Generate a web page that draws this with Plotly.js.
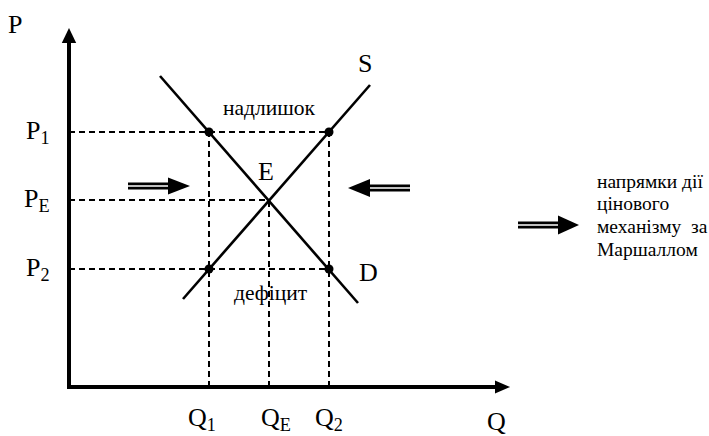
<!DOCTYPE html>
<html>
<head>
<meta charset="utf-8">
<script src="https://cdn.plot.ly/plotly-3.0.1.min.js"></script>
<style>html,body{margin:0;padding:0;background:#fff;}#chart{width:709px;height:436px;}</style>
</head>
<body>
<div id="chart"></div>
<script>
// ---- data (abstract quantity / price units) ----
const qLevels = [7, 10, 13];            // Q1, QE, Q2
const qLabels = ['Q<sub>1</sub>', 'Q<sub>E</sub>', 'Q<sub>2</sub>'];
const qLabelShift = [-7, 7, 0];
const pLevels = [12.75, 9.35, 5.9];     // P1, PE, P2
const pLabels = ['P<sub>1</sub>', 'P<sub>E</sub>', 'P<sub>2</sub>'];
const supplyQ = [5.7, 15.05];
const supplyP = [4.4, 15.1];
const demandQ = [4.55, 14.45];
const demandP = [15.55, 4.2];
const axisMaxQ = 22.05;
const axisMaxP = 17.95;
const surplusText = 'надлишок';
const deficitText = 'дефіцит';
const legendLines = ['напрямки дії', 'цінового', 'механізму  за', 'Маршаллом'];
const legendLineY = [10.3, 9.2, 8.05, 6.9];

const FONT = '"Liberation Serif"';
const traces = [];

// dashed guide lines
const dashStyle = {color: '#000', width: 2, dash: '6px,4px'};
const guides = [
  {x: [0, qLevels[2]], y: [pLevels[0], pLevels[0]]},
  {x: [0, qLevels[1]], y: [pLevels[1], pLevels[1]]},
  {x: [0, qLevels[2]], y: [pLevels[2], pLevels[2]]},
  {x: [qLevels[0], qLevels[0]], y: [0, pLevels[0]]},
  {x: [qLevels[1], qLevels[1]], y: [0, pLevels[1]]},
  {x: [qLevels[2], qLevels[2]], y: [0, pLevels[0]]}
];
guides.forEach(g => traces.push({type: 'scatter', mode: 'lines', x: g.x, y: g.y, line: dashStyle, hoverinfo: 'skip'}));

// supply and demand
traces.push({type: 'scatter', mode: 'lines', x: supplyQ, y: supplyP, line: {color: '#000', width: 2.6}});
traces.push({type: 'scatter', mode: 'lines', x: demandQ, y: demandP, line: {color: '#000', width: 2.6}});

// intersection dots
traces.push({type: 'scatter', mode: 'markers',
  x: [qLevels[0], qLevels[2], qLevels[0], qLevels[2]],
  y: [pLevels[0], pLevels[0], pLevels[2], pLevels[2]],
  marker: {color: '#000', size: 9}});

// shapes: axes and arrows
const shapes = [];
function tri(tipX, tipY, baseX, baseY, halfW, vertical) {
  let p;
  if (vertical) p = `M ${tipX},${tipY} L ${baseX - halfW},${baseY} L ${baseX + halfW},${baseY} Z`;
  else p = `M ${tipX},${tipY} L ${baseX},${baseY - halfW} L ${baseX},${baseY + halfW} Z`;
  shapes.push({type: 'path', xref: 'x', yref: 'y', path: p, fillcolor: '#000', line: {width: 0}});
}
function line(x0, y0, x1, y1, w, c) {
  shapes.push({type: 'line', xref: 'x', yref: 'y', x0, y0, x1, y1, line: {color: c || '#000', width: w}});
}
// axes
line(0, -0.1, 0, axisMaxP - 0.7, 4);
tri(0, axisMaxP, 0, axisMaxP - 0.75, 0.36, true);
line(-0.1, 0, axisMaxQ - 0.7, 0, 4);
tri(axisMaxQ, 0, axisMaxQ - 0.75, 0, 0.33, false);

function doubleArrow(tail, base, tip, y, half) {
  line(tail, y, base, y, 7);
  line(tail, y, base, y, 1.5, '#fff');
  tri(tip, y, base, y, half, false);
}
doubleArrow(2.95, 4.95, 6.05, 10.05, 0.42);
doubleArrow(17.05, 15.05, 13.95, 9.95, 0.45);
doubleArrow(22.45, 24.45, 25.5, 8.1, 0.47);

// annotations
const ann = [];
function txt(x, y, text, size, opts) {
  ann.push(Object.assign({x, y, xref: 'x', yref: 'y', text, showarrow: false,
    font: {family: FONT, size, color: '#000'}}, opts || {}));
}
txt(-2.68, 18.15, 'P', 26);
pLevels.forEach((p, i) => txt(-0.85, p, pLabels[i], 26, {xanchor: 'right'}));
qLevels.forEach((q, i) => txt(q, -1.62, qLabels[i], 26, {xshift: qLabelShift[i]}));
txt(21.35, -1.7, 'Q', 26);
txt(14.8, 16.2, 'S', 26);
txt(14.95, 5.75, 'D', 26);
txt(9.85, 10.8, 'E', 26);
txt(10.0, 13.95, surplusText, 21.5);
txt(10.1, 4.7, deficitText, 21.5);
legendLines.forEach((t, i) => txt(26.3, legendLineY[i], t, 19.5, {xanchor: 'left', align: 'left'}));

const layout = {
  width: 709, height: 436,
  margin: {l: 0, r: 0, t: 0, b: 0},
  paper_bgcolor: '#fff', plot_bgcolor: '#fff',
  showlegend: false,
  font: {family: FONT},
  xaxis: {range: [-3.45, 32], visible: false, fixedrange: true},
  yaxis: {range: [-2.45, 19.35], visible: false, fixedrange: true},
  shapes, annotations: ann
};
Plotly.newPlot('chart', traces, layout, {staticPlot: true});
</script>
</body>
</html>
